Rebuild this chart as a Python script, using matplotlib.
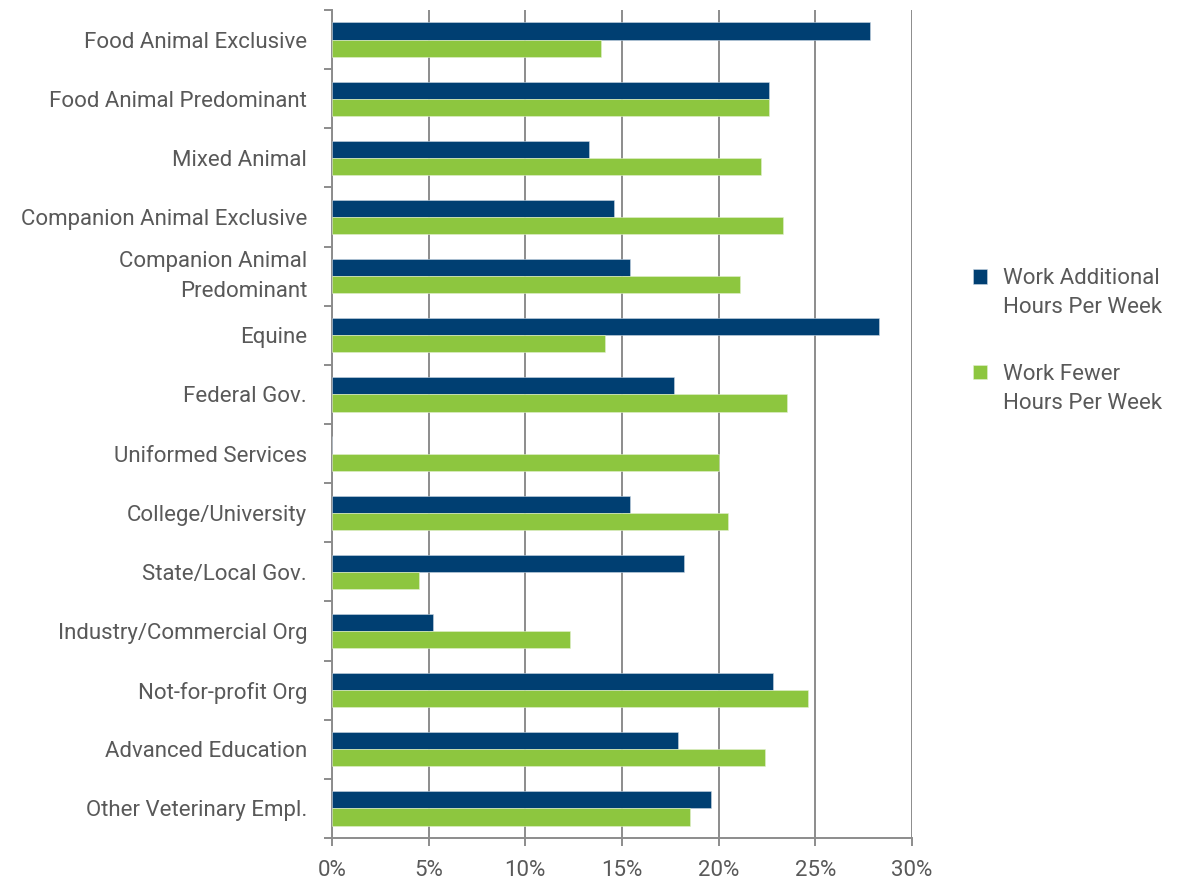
import numpy as np
import matplotlib
matplotlib.use("Agg")
import matplotlib.pyplot as plt
from matplotlib.patches import Rectangle
from matplotlib.container import BarContainer
from matplotlib.legend_handler import HandlerPatch, update_from_first_child
from matplotlib.ticker import PercentFormatter, FixedLocator

# share of respondents by employment type
categories = ["Food Animal Exclusive", "Food Animal Predominant", "Mixed Animal",
              "Companion Animal Exclusive", "Companion Animal\nPredominant", "Equine",
              "Federal Gov.", "Uniformed Services", "College/University",
              "State/Local Gov.", "Industry/Commercial Org", "Not-for-profit Org",
              "Advanced Education", "Other Veterinary Empl."]
more_hours = [27.8, 22.6, 13.3, 14.6, 15.4, 28.3, 17.7, 0.0, 15.4, 18.2, 5.2, 22.8, 17.9, 19.6]
fewer_hours = [13.9, 22.6, 22.2, 23.35, 21.1, 14.1, 23.55, 20.0, 20.5, 4.5, 12.3, 24.6, 22.4, 18.5]
series_names = ["Work Additional\nHours Per Week", "Work Fewer\nHours Per Week"]

navy = "#003F72"
green = "#8DC63F"
grey_txt = "#595959"
grey_line = "#8C8C8C"
fs = 16

plt.rcParams["font.family"] = ["Roboto", "DejaVu Sans"]


def top_square(legend, orig_handle, xdescent, ydescent, width, height, fontsize):
    # put the legend square next to the first line of a two-line label
    return Rectangle((-xdescent, -ydescent + 0.77 * fontsize), width, height)


fig = plt.figure(figsize=(11.93, 8.85), dpi=100)
ax = fig.add_axes([0.2783, 0.0531, 0.4862, 0.9356])

y = np.arange(len(categories))
h = 0.29
ax.barh(y - h / 2, more_hours, height=h, color=navy, edgecolor="#C9D6E3", linewidth=0.4,
        label=series_names[0], zorder=3)
ax.barh(y + h / 2, fewer_hours, height=h, color=green, edgecolor="#E2F0CF", linewidth=0.4,
        label=series_names[1], zorder=3)

ax.set_xlim(0, 30)
ax.set_ylim(len(categories) - 0.5, -0.5)
ax.set_xticks(np.arange(0, 31, 5))
ax.xaxis.set_major_formatter(PercentFormatter(decimals=0))
ax.set_yticks(y)
ax.set_yticklabels(categories, linespacing=1.57)
ax.yaxis.set_minor_locator(FixedLocator(np.arange(-0.5, len(categories), 1)))

# two-line category label: center the whole block on the tick
for tick in ax.yaxis.get_major_ticks():
    if "\n" in tick.label1.get_text():
        tick.label1.set_va("center")

ax.grid(axis="x", color=grey_line, linewidth=1.4, zorder=0)
for side in ["top", "right"]:
    ax.spines[side].set_visible(False)
for side in ["left", "bottom"]:
    ax.spines[side].set_color(grey_line)
    ax.spines[side].set_linewidth(1.4)

ax.tick_params(axis="y", which="major", length=0, pad=18, labelsize=fs, labelcolor=grey_txt)
ax.tick_params(axis="y", which="minor", length=6, width=1.4, color=grey_line)
ax.tick_params(axis="x", length=6, width=1.4, color=grey_line, labelsize=fs,
               labelcolor=grey_txt, pad=10)

leg = ax.legend(loc="center left", bbox_to_anchor=(1.071, 0.60), frameon=False,
                fontsize=fs, labelcolor=grey_txt, handlelength=0.6, handleheight=0.6,
                handletextpad=0.75, labelspacing=2.05,
                handler_map={BarContainer: HandlerPatch(patch_func=top_square,
                                                        update_func=update_from_first_child)})
for t in leg.get_texts():
    t.set_linespacing(1.5)

fig.savefig("out.png", dpi=100)
